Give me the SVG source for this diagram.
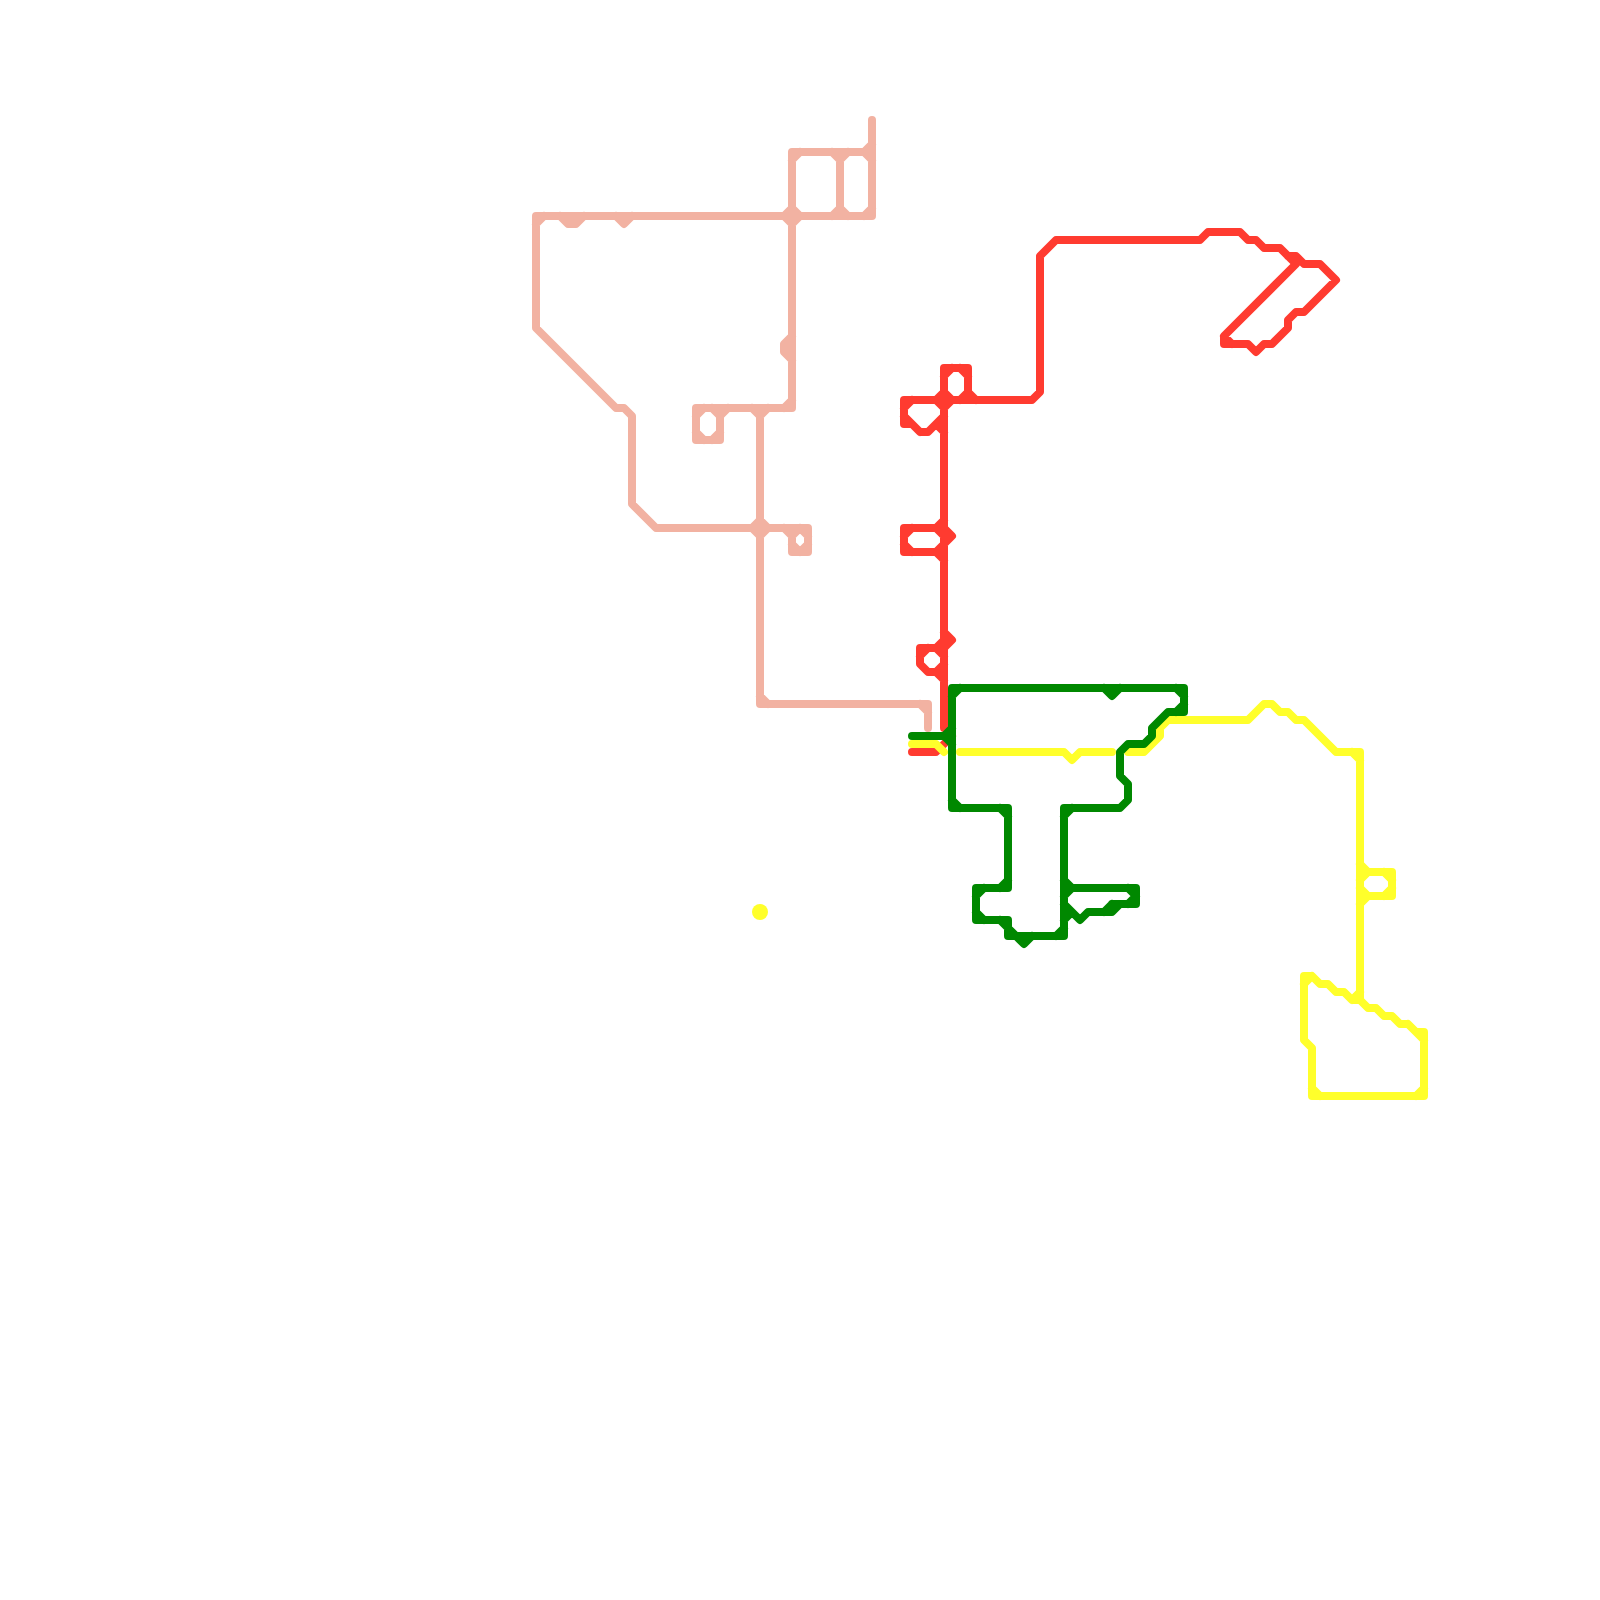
<svg xmlns="http://www.w3.org/2000/svg" width="1600" height="1600" viewBox="0 0 1600 1600">
<style>
.l{fill:none;stroke-width:8;stroke-linecap:round;stroke-linejoin:round}
.pink{stroke:#f2b2a2}
.red{stroke:#ff3b30}
.yellow{stroke:#ffff2b}
.green{stroke:#008800}
</style>
<rect width="1600" height="1600" fill="#ffffff"/>
<g id="connectors">
<path id="line-pink" class="l pink" d="M872 120V216H536V328L616 408H624L632 416V504L656 528H808V552H792V536
M792 152H872 M792 152V408H696V440H720V408 M840 152V216
M560 216L568 224H576L584 216 M616 216L624 224L632 216
M792 336L784 344V352L792 360
M760 408V704H928V728
M864 152L872 144 M864 152L872 160 M832 152L840 160 M848 152L840 160 M800 152L792 160
M832 216L840 208 M848 216L840 208 M864 216L872 208 M544 216L536 224
M784 216L792 208L800 216L792 224Z
M784 408L792 400 M752 408L760 416 M768 408L760 416 M704 408L696 416 M712 408L720 416 M728 408L720 416
M696 432L704 440 M720 432L712 440
M752 528L760 520L768 528L760 536Z
M784 528L792 536 M800 528L792 536 M800 528L808 536 M808 544L800 552 M792 544L800 552
M760 696L768 704 M920 704L928 712"/>
<path id="line-red" class="l red" d="M944 368V728 M944 368H968V400 M904 400H1032L1040 392V256L1056 240H1200L1208 232H1240L1248 240H1256L1264 248H1280L1296 264
M1288 256H1296L1304 264H1320L1336 280L1304 312H1296L1288 320V328L1272 344H1264L1256 352L1248 344H1224V336L1296 264
M904 400V424H912L920 432H928L944 416 M904 416L920 432
M912 400L904 408 M936 400L944 392L952 400L944 408Z M960 400L968 392 M976 400L968 392
M952 368L944 376 M960 368L968 376 M936 424L944 432
M1232 344L1224 336
M904 528H944 M904 528V552H944 M944 528L952 536L944 544
M912 528L904 536 M904 544L912 552 M936 528L944 520 M936 528L944 536 M936 552L944 544 M936 552L944 560
M944 648H920V664L928 672H936L944 680 M944 632L952 640L944 648
M936 648L944 640 M936 648L944 656 M928 648L920 656 M936 672L944 664
M912 752H936L952 736"/>
<path id="line-yellow" class="l yellow" d="M912 744H936L944 752
M960 752H1064L1072 760L1080 752H1112
M1128 752H1144L1160 736V728L1168 720H1248L1264 704H1272L1280 712H1288L1296 720H1304L1336 752H1360V1000
M1352 752L1360 760
M1360 872H1392V896H1360
M1360 864L1368 872 M1360 880L1368 872 M1360 888L1368 896 M1360 904L1368 896 M1384 872L1392 880 M1392 888L1384 896
M1304 976H1312L1320 984H1328L1336 992H1344L1352 1000H1360L1368 1008H1376L1384 1016H1392L1400 1024H1408L1416 1032H1424V1096H1312V1048L1304 1040V976
M1408 1024L1424 1040 M1312 976L1304 984 M1312 1088L1320 1096 M1416 1096L1424 1088 M1352 1000L1360 992"/>
<path id="line-green" class="l green" d="M912 736H944L952 728 M944 736L952 744
M952 688V808H1008V888H976V920H1008V936H1064V808H1120L1128 800V784L1120 776V752L1128 744H1144L1152 736V728L1168 712H1184V688H952
M1104 688L1112 696L1120 688 M1016 936L1024 944L1032 936
M960 688L952 696 M952 800L960 808 M1000 808L1008 816 M1008 880L1000 888 M984 888L976 896 M976 912L984 920
M1000 920L1008 928 M1008 928L1016 936 M1056 936L1064 928 M1176 688L1184 696 M1184 704L1176 712 M1072 808L1064 816
M1064 888H1136V904H1120L1112 912H1088L1080 920L1072 912H1064 M1112 904L1104 912 M1112 904H1120
M1064 896L1072 888 M1064 880L1072 888 M1064 904L1072 912 M1064 920L1072 912 M1128 888L1136 896 M1136 896L1128 904"/>
<circle id="station-dot" cx="760" cy="912" r="8" fill="#ffff2b"/>
</g>
</svg>
